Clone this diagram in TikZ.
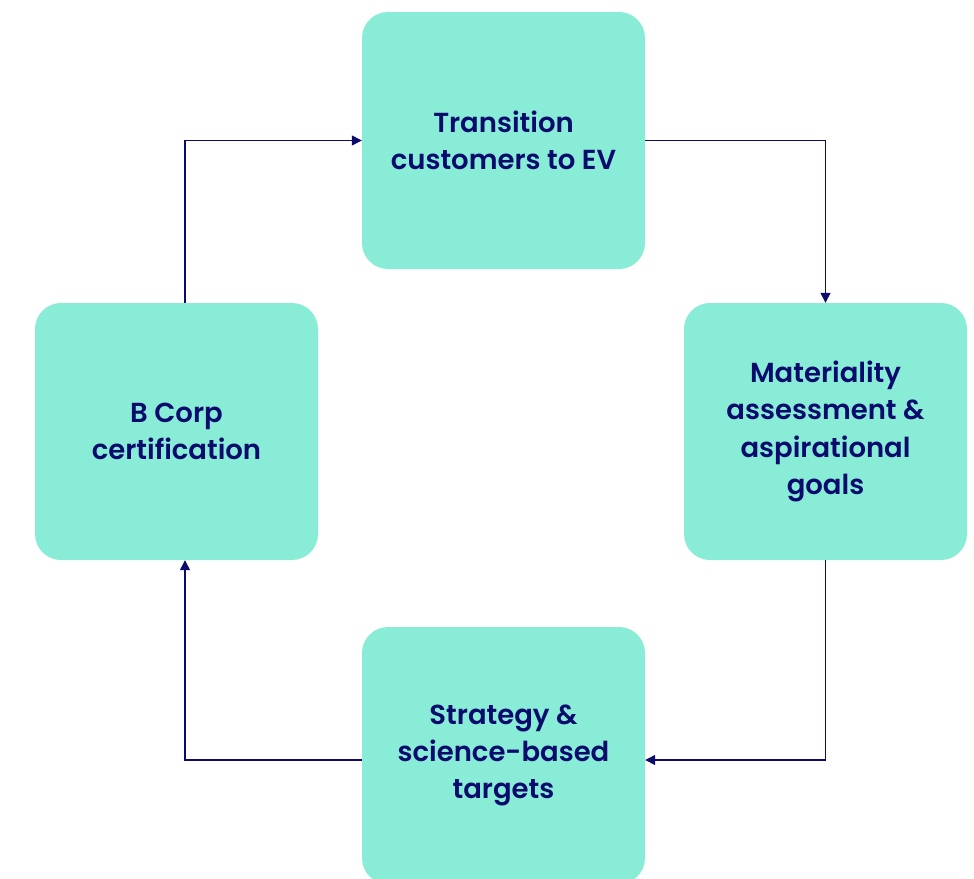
\documentclass[tikz,border=0pt]{standalone}
\usepackage{fontspec}
\setmainfont{Poppins SemiBold}
\usetikzlibrary{arrows.meta}
\definecolor{boxfill}{HTML}{88ECD6}
\definecolor{ink}{HTML}{0B0B6E}
\begin{document}
\begin{tikzpicture}[x=1pt,y=-1pt,
  stage/.style={fill=boxfill, rounded corners=26pt, minimum width=283pt,
    minimum height=257pt, inner sep=0pt, align=center, text=ink,
    font=\fontsize{27.5}{37.3}\selectfont},
  flow/.style={draw=ink, line width=1.3pt,
    -{Triangle[length=10pt,width=10pt]}}]
\useasboundingbox (0,0) rectangle (974,878);
\node[stage] (ev)  at (503.5,140.5) {Transition\\customers to EV};
\node[stage] (mat) at (825.5,431.5) {Materiality\\assessment \&\\aspirational\\goals};
\node[stage] (sci) at (503.5,755.5) {Strategy \&\\science-based\\targets};
\node[stage] (bc)  at (176.5,431.5) {B Corp\\certification};
\draw[flow] (ev.east) -| (mat.north);
\draw[flow] (mat.south) |- ([yshift=-4.5pt]sci.east);
\draw[flow] ([yshift=-4.5pt]sci.west) -| ([xshift=8.5pt]bc.south);
\draw[flow] ([xshift=8.5pt]bc.north) |- (ev.west);
\end{tikzpicture}
\end{document}
